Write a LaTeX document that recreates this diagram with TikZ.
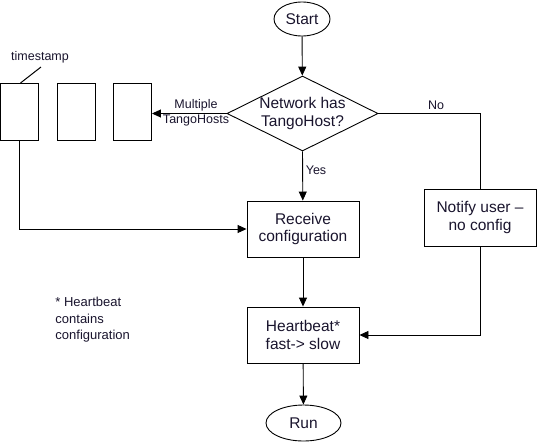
\documentclass[tikz,border=0pt]{standalone}
\usepackage{fontspec}
\setmainfont{Liberation Sans}
\usetikzlibrary{shapes.geometric,arrows.meta}
\definecolor{txt}{RGB}{25,20,45}
\begin{document}
\begin{tikzpicture}[x=1pt,y=-1pt,line width=0.9pt,
  every node/.style={text=txt},
  proc/.style={draw,rectangle,minimum width=112pt,minimum height=56pt,inner sep=0pt,align=center,font=\fontsize{15.5}{17.5}\selectfont},
  term/.style={draw,ellipse,inner sep=0pt,font=\fontsize{15.5}{17.5}\selectfont},
  slot/.style={draw,rectangle,minimum width=38pt,minimum height=57pt,inner sep=0pt},
  lbl/.style={font=\fontsize{12.5}{15}\selectfont,inner sep=0pt,align=center},
  arr/.style={-{Triangle[length=9pt,width=8pt]}}]
\useasboundingbox (0,0) rectangle (537,442);
\node[term,minimum width=56pt,minimum height=34pt] (start) at (302,19) {Start};
\node[draw,diamond,aspect=2,minimum width=151pt,minimum height=75pt,inner sep=0pt,align=center,font=\fontsize{15.5}{17.5}\selectfont] (dec) at (302.5,113.5) {Network has\\TangoHost?};
\node[proc] (recv) at (303,229) {Receive\\configuration};
\node[proc] (hb) at (303,335) {Heartbeat*\\fast-> slow};
\node[term,minimum width=75pt,minimum height=36pt] (run) at (303.5,423) {Run};
\node[proc,minimum width=112pt,minimum height=57pt] (notify) at (480,217.5) {Notify user --\\no config};
\node[slot] (s1) at (19.5,111.5) {};
\node[slot] (s2) at (76.5,111.5) {};
\node[slot] (s3) at (132.5,111.5) {};
\node[lbl,anchor=base] (ts) at (40,60) {timestamp};
\node[inner sep=0pt,minimum size=0pt] (tsa) at (41,67) {};
\node[inner sep=0pt,minimum size=0pt] (tsb) at (20.5,83) {};
\node[lbl] (mul) at (196,113) {Multiple\\TangoHosts};
\node[lbl] (yes) at (316,170) {Yes};
\node[lbl] (no) at (436,105) {No};
\node[lbl,align=left,anchor=north west,font=\fontsize{13}{16.5}\selectfont] (note) at (55,297) {* Heartbeat\\contains\\configuration};
\draw[arr] (start) -- (dec);
\draw[arr] (dec.south) -- (recv);
\draw[arr] (recv) -- (hb);
\draw[arr] (hb) -- (run);
\draw[arr] (dec.west) -- (s3.east |- dec.west);
\draw (dec.east) -| (notify.north);
\draw[arr] (notify.south) |- (hb.east);
\draw[arr] (s1.south) |- (recv.west);
\path (tsa.center) edge[draw=black,line width=1pt] (tsb.center);
\end{tikzpicture}
\end{document}
